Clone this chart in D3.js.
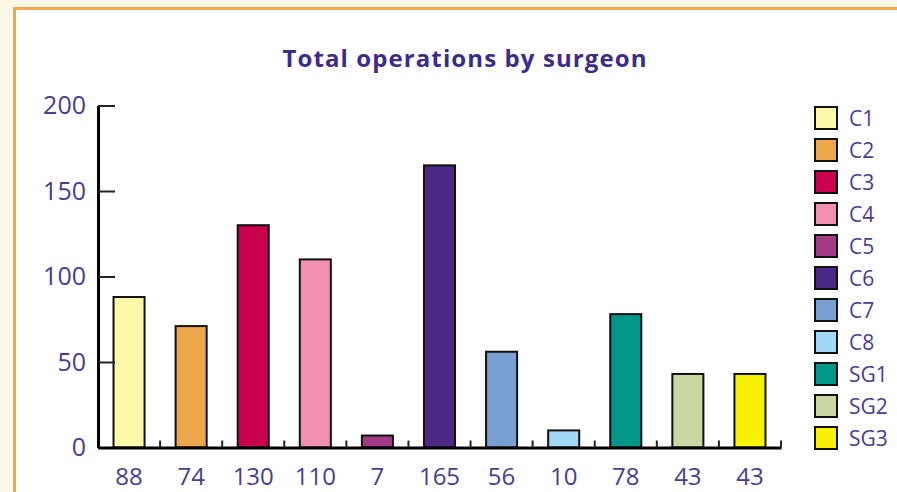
<!DOCTYPE html>
<html>
<head>
<meta charset="utf-8">
<script src="https://cdn.jsdelivr.net/npm/d3@7"></script>
<style>
  body { margin: 0; background: #fef9e7; }
  svg { display: block; font-family: "Open Sans", sans-serif; }
</style>
</head>
<body>
<svg id="chart" width="897" height="492"></svg>
<script>
const surgeons = ['C1', 'C2', 'C3', 'C4', 'C5', 'C6', 'C7', 'C8', 'SG1', 'SG2', 'SG3'];
const operations = [88, 71, 130, 110, 7, 165, 56, 10, 78, 43, 43];
const countLabels = ['88', '74', '130', '110', '7', '165', '56', '10', '78', '43', '43'];
const barColors = ['#fef9a8', '#eca64c', '#c8004e', '#f190b2', '#a33a88', '#4b2885',
                   '#789fd2', '#a0d8f5', '#00968a', '#c9d8a2', '#f8f200'];
const yTicks = [0, 50, 100, 150, 200];

const textColor = '#4a3b97';
const svg = d3.select('#chart');

// cream page with the orange-edged white panel
svg.append('rect')
  .attr('x', 14.5).attr('y', 8.5)
  .attr('width', 900).attr('height', 500)
  .attr('fill', '#fff')
  .attr('stroke', '#f0a94a')
  .attr('stroke-width', 3);

const x = d3.scaleBand()
  .domain(surgeons)
  .range([98, 781])
  .paddingInner(0.5)
  .paddingOuter(0.25);

const y = d3.scaleLinear()
  .domain([0, 200])
  .range([447.5, 105.5]);

const step = x.step();

// bars
svg.append('g')
  .selectAll('rect')
  .data(surgeons)
  .join('rect')
  .attr('x', d => x(d))
  .attr('y', (d, i) => y(operations[i]))
  .attr('width', x.bandwidth())
  .attr('height', (d, i) => y(0) - y(operations[i]))
  .attr('fill', (d, i) => barColors[i])
  .attr('stroke', '#111')
  .attr('stroke-width', 2);

// y axis with inward ticks
const yAxis = svg.append('g')
  .attr('transform', `translate(${x.range()[0]},0)`)
  .call(d3.axisLeft(y).tickValues(yTicks).tickSizeInner(-17).tickSizeOuter(0).tickPadding(12));
yAxis.select('.domain').attr('stroke', '#000').attr('stroke-width', 3);
yAxis.selectAll('.tick line').attr('stroke', '#222').attr('stroke-width', 2);
yAxis.selectAll('.tick text')
  .attr('fill', textColor)
  .attr('font-size', 25)
  .attr('font-family', '"Open Sans", sans-serif');

// x axis: baseline, boundary ticks pointing up, count labels under bars
const xAxis = svg.append('g')
  .attr('transform', `translate(0,${y(0)})`)
  .call(d3.axisBottom(x).tickSize(0).tickPadding(20).tickFormat((d, i) => countLabels[i]));
xAxis.select('.domain').attr('stroke', '#000').attr('stroke-width', 3);
xAxis.selectAll('.tick text')
  .attr('fill', textColor)
  .attr('font-size', 24)
  .attr('font-family', '"Open Sans", sans-serif');

xAxis.append('g')
  .selectAll('line')
  .data(surgeons)
  .join('line')
  .attr('x1', d => x(d) + x.bandwidth() + step * 0.25)
  .attr('x2', d => x(d) + x.bandwidth() + step * 0.25)
  .attr('y1', 0)
  .attr('y2', -7)
  .attr('stroke', '#222')
  .attr('stroke-width', 2);

// title
svg.append('text')
  .attr('x', 465)
  .attr('y', 67)
  .attr('text-anchor', 'middle')
  .attr('fill', '#3b2c8a')
  .attr('font-size', 24)
  .attr('font-weight', 'bold')
  .attr('letter-spacing', 1.1)
  .text('Total operations by surgeon');

// legend
const legend = svg.append('g')
  .selectAll('g')
  .data(surgeons)
  .join('g')
  .attr('transform', (d, i) => `translate(815,${118 + i * 32})`);

legend.append('rect')
  .attr('x', 0).attr('y', -11)
  .attr('width', 22).attr('height', 22)
  .attr('fill', (d, i) => barColors[i])
  .attr('stroke', '#111')
  .attr('stroke-width', 2);

legend.append('text')
  .attr('x', 34)
  .attr('y', 8)
  .attr('fill', textColor)
  .attr('font-size', 21)
  .text(d => d);
</script>
</body>
</html>
